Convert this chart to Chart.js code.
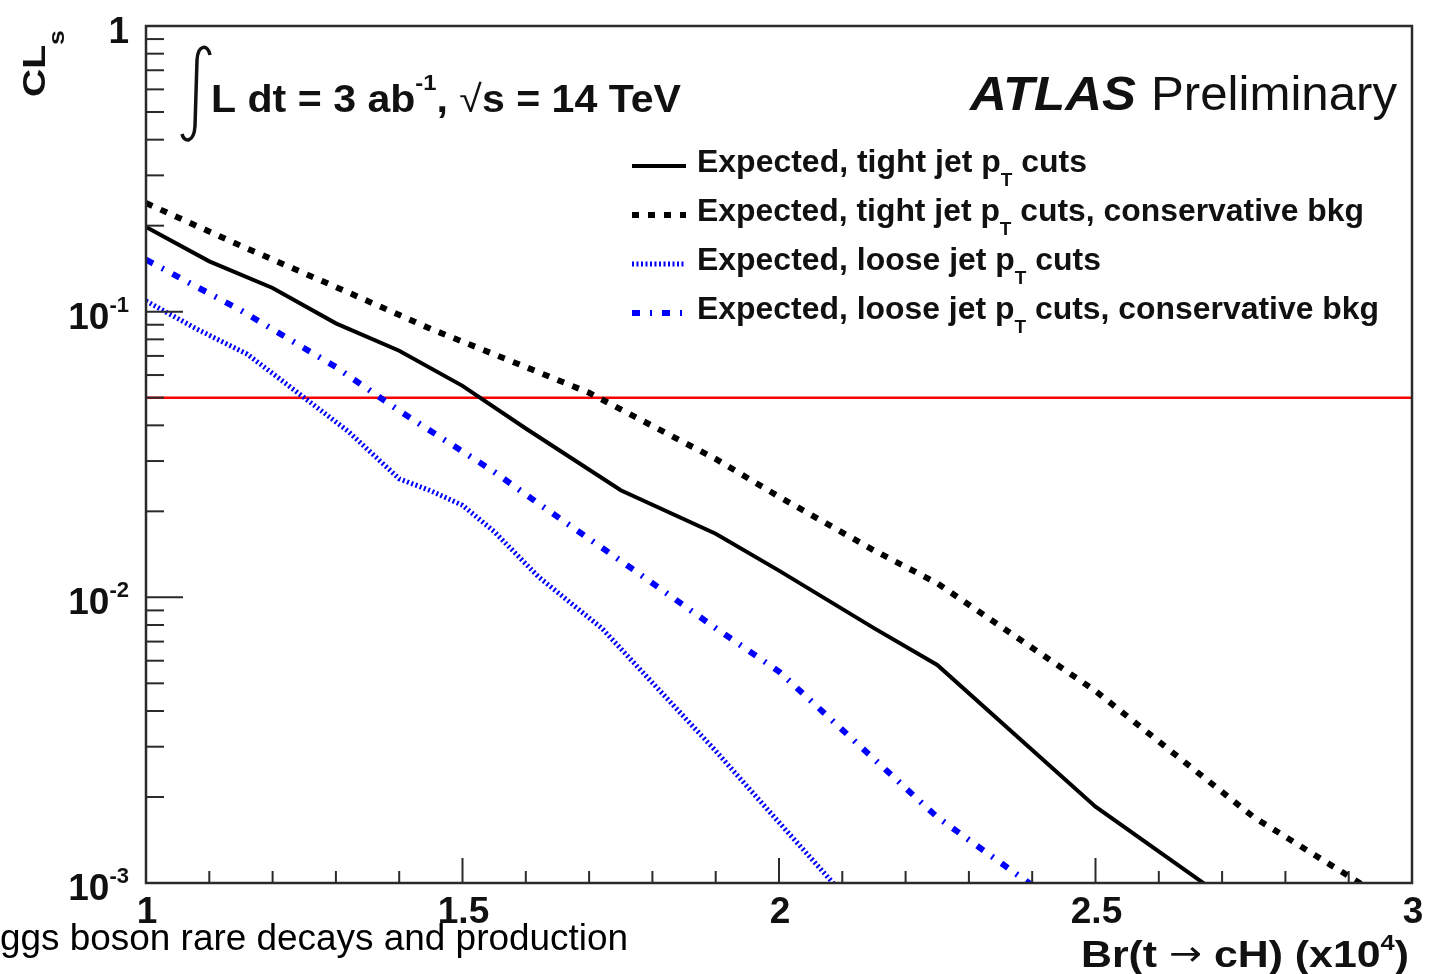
<!DOCTYPE html>
<html lang="en">
<head>
<meta charset="UTF-8">
<title>CLs vs Br(t -> cH)</title>
<script src="https://cdn.jsdelivr.net/npm/chart.js"></script>
<style>
    html, body { margin: 0; padding: 0; background: #fff; }
    #wrap { width: 1438px; height: 974px; position: relative; }
</style>
</head>
<body>
<div id="wrap"><canvas id="clsChart" width="1438" height="974"></canvas></div>
<script>
    // Br(t -> cH) in units of 1e-4, CLs
    const tightX = [1.0, 1.1, 1.2, 1.3, 1.4, 1.5, 1.6, 1.75, 1.9, 2.0, 2.15, 2.25, 2.5, 2.75];
    const tightCls = [0.198, 0.150, 0.121, 0.091, 0.073, 0.055, 0.039, 0.0237, 0.0167, 0.0124, 0.0078, 0.0058, 0.00185, 0.00075];

    const tightConsX = [1.0, 1.15, 1.3, 1.45, 1.6, 1.7, 1.9, 2.0, 2.15, 2.25, 2.5, 2.75, 3.0];
    const tightConsCls = [0.24, 0.170, 0.122, 0.087, 0.064, 0.052, 0.0305, 0.0225, 0.0146, 0.0112, 0.0047, 0.0017, 0.00077];

    const looseX = [1.0, 1.08, 1.16, 1.25, 1.32, 1.4, 1.45, 1.5, 1.55, 1.62, 1.72, 1.9, 2.0, 2.1];
    const looseCls = [0.109, 0.087, 0.071, 0.050, 0.038, 0.026, 0.0236, 0.021, 0.017, 0.0118, 0.0078, 0.0029, 0.00163, 0.00092];

    const looseConsX = [1.0, 1.15, 1.3, 1.4, 1.55, 1.62, 1.77, 1.9, 2.0, 2.25, 2.5];
    const looseConsCls = [0.152, 0.101, 0.064, 0.045, 0.0275, 0.0213, 0.0125, 0.0078, 0.0055, 0.0017, 0.00068];

    // 95% CL line
    const limitX = [1, 3];
    const limitCls = [0.05, 0.05];

    const xTicks = [1, 1.5, 2, 2.5, 3];
    const xTickLabels = ['1', '1.5', '2', '2.5', '3'];
    const yTicks = [0.001, 0.01, 0.1, 1];
    const yTickLabels = [['10', '-3'], ['10', '-2'], ['10', '-1'], ['1', '']];

    // [text before subscript, subscript, text after]
    const legendLabels = [
        ['Expected, tight jet p', 'T', ' cuts'],
        ['Expected, tight jet p', 'T', ' cuts, conservative bkg'],
        ['Expected, loose jet p', 'T', ' cuts'],
        ['Expected, loose jet p', 'T', ' cuts, conservative bkg']
    ];

    const FONT = '"Liberation Sans", Arial, Helvetica, sans-serif';
    const styles = [
        { color: '#000000', width: 4, dash: [] },
        { color: '#000000', width: 6, dash: [7, 9] },
        { color: '#0000ff', width: 5, dash: [2, 2.5] },
        { color: '#0000ff', width: 6, dash: [8, 10, 2, 10] }
    ];

    function pts(xs, ys) {
        return xs.map((x, i) => ({ x: x, y: ys[i] }));
    }

    // draw a run of text pieces (font / vertical shift), optionally squeezed to a width
    function drawRich(ctx, parts, x, y, align, width) {
        let total = 0;
        parts.forEach(p => { ctx.font = p.font; p.w = ctx.measureText(p.text).width; total += p.w; });
        const sx = width ? width / total : 1;
        let cx = align === 'right' ? x - total * sx : (align === 'center' ? x - total * sx / 2 : x);
        ctx.textAlign = 'left';
        ctx.textBaseline = 'alphabetic';
        parts.forEach(p => {
            ctx.font = p.font;
            ctx.save();
            ctx.translate(cx, y + (p.dy || 0));
            ctx.scale(sx, 1);
            ctx.fillText(p.text, 0, 0);
            ctx.restore();
            cx += p.w * sx;
        });
    }

    function seg(ctx, x1, y1, x2, y2) {
        ctx.beginPath();
        ctx.moveTo(x1, y1);
        ctx.lineTo(x2, y2);
        ctx.stroke();
    }

    const rootFrame = {
        id: 'rootFrame',
        afterDatasetsDraw(chart) {
            const ctx = chart.ctx, a = chart.chartArea;
            const xs = chart.scales.x, ys = chart.scales.y;
            ctx.save();
            ctx.strokeStyle = '#2a2a2a';
            ctx.lineWidth = 2.5;
            ctx.setLineDash([]);
            ctx.strokeRect(a.left, a.top, a.right - a.left, a.bottom - a.top);

            // log y ticks, inside the frame
            ctx.lineWidth = 2;
            for (let e = -3; e <= 0; e++) {
                for (let m = 1; m <= 9; m++) {
                    const v = m * Math.pow(10, e);
                    if (v > 1) break;
                    const py = ys.getPixelForValue(v);
                    seg(ctx, a.left, py, a.left + (m === 1 ? 37 : 18), py);
                }
            }
            // x ticks every 0.1
            for (let i = 0; i <= 20; i++) {
                const px = xs.getPixelForValue(1 + i / 10);
                seg(ctx, px, a.bottom, px, a.bottom - (i % 5 === 0 ? 25 : 12));
            }
            ctx.restore();
        },
        afterDraw(chart) {
            const ctx = chart.ctx;
            const xs = chart.scales.x, ys = chart.scales.y;
            ctx.save();
            ctx.fillStyle = '#111';
            const B = 'bold 37px ' + FONT;
            const Bs = 'bold 22px ' + FONT;

            // y tick labels
            yTicks.forEach((v, i) => {
                const py = ys.getPixelForValue(v);
                const lab = yTickLabels[i];
                if (lab[1]) {
                    drawRich(ctx, [{ text: lab[0], font: B }, { text: lab[1], font: Bs, dy: -17 }], 129, py + 17, 'right');
                } else {
                    drawRich(ctx, [{ text: lab[0], font: B }], 129, py + 17, 'right');
                }
            });
            // x tick labels
            xTicks.forEach((v, i) => {
                drawRich(ctx, [{ text: xTickLabels[i], font: B }], xs.getPixelForValue(v) + 1, 923, 'center');
            });

            // axis titles
            drawRich(ctx, [
                { text: 'Br(t ', font: B },
                { text: '\u2192', font: '34px "DejaVu Sans", ' + FONT, dy: -2 },
                { text: ' cH) (x10', font: B },
                { text: '4', font: Bs, dy: -17 },
                { text: ')', font: B }
            ], 1409, 967, 'right', 328);

            ctx.save();
            ctx.translate(45, 97);
            ctx.rotate(-Math.PI / 2);
            drawRich(ctx, [{ text: 'CL', font: 'bold 32px ' + FONT }, { text: 's', font: 'bold 22px ' + FONT, dy: 19 }], 0, 0, 'left', 67);
            ctx.restore();

            // luminosity / energy label with integral sign
            ctx.strokeStyle = '#111';
            ctx.lineWidth = 3.5;
            ctx.beginPath();
            ctx.moveTo(210, 55);
            ctx.bezierCurveTo(208, 44, 198, 44, 197, 60);
            ctx.lineTo(195, 126);
            ctx.bezierCurveTo(194, 143, 184, 143, 182, 134);
            ctx.stroke();
            drawRich(ctx, [
                { text: 'L dt = 3 ab', font: 'bold 38px ' + FONT },
                { text: '-1', font: 'bold 22px ' + FONT, dy: -22 },
                { text: ', ', font: 'bold 38px ' + FONT },
                { text: '\u221A', font: '38px ' + FONT },
                { text: 's = 14 TeV', font: 'bold 38px ' + FONT }
            ], 211, 112, 'left', 470);

            // ATLAS Preliminary
            drawRich(ctx, [{ text: 'ATLAS', font: 'italic bold 48px ' + FONT }], 970, 110, 'left', 166);
            drawRich(ctx, [{ text: 'Preliminary', font: '48px ' + FONT }], 1151, 110, 'left', 246);

            // legend
            const rowY = [166, 215, 264, 313];
            const rowW = [390, 667, 404, 682];
            legendLabels.forEach((lab, i) => {
                const s = styles[i];
                ctx.save();
                ctx.strokeStyle = s.color;
                ctx.lineWidth = s.width;
                ctx.setLineDash(s.dash);
                seg(ctx, 632, rowY[i], 686, rowY[i]);
                ctx.restore();
                drawRich(ctx, [
                    { text: lab[0], font: 'bold 32px ' + FONT },
                    { text: lab[1], font: 'bold 19px ' + FONT, dy: 14 },
                    { text: lab[2], font: 'bold 32px ' + FONT }
                ], 697, rowY[i] + 6, 'left', rowW[i]);
            });

            // caption fragment under the plot
            ctx.fillStyle = '#000';
            drawRich(ctx, [{ text: 'ggs boson rare decays and production', font: '36px ' + FONT }], 0, 950, 'left', 628);
            ctx.restore();
        }
    };

    function ds(label, xs, ys, s) {
        return {
            label: label,
            data: pts(xs, ys),
            borderColor: s.color,
            borderWidth: s.width,
            borderDash: s.dash,
            borderCapStyle: 'butt',
            pointRadius: 0,
            tension: 0,
            fill: false,
            clip: 0,
            order: 0
        };
    }

    new Chart(document.getElementById('clsChart'), {
        type: 'line',
        data: {
            datasets: [
                ds('tight', tightX, tightCls, styles[0]),
                ds('tight cons', tightConsX, tightConsCls, styles[1]),
                ds('loose', looseX, looseCls, styles[2]),
                ds('loose cons', looseConsX, looseConsCls, styles[3]),
                {
                    label: 'CLs = 0.05',
                    data: pts(limitX, limitCls),
                    borderColor: '#ff0000',
                    borderWidth: 2.5,
                    pointRadius: 0,
                    tension: 0,
                    clip: 0,
                    order: 10
                }
            ]
        },
        options: {
            responsive: false,
            animation: false,
            devicePixelRatio: 1,
            layout: { padding: { left: 146, top: 26, right: 26, bottom: 91 } },
            scales: {
                x: { type: 'linear', min: 1, max: 3, display: false },
                y: { type: 'logarithmic', min: 0.001, max: 1, display: false }
            },
            plugins: {
                legend: { display: false },
                tooltip: { enabled: false }
            }
        },
        plugins: [rootFrame]
    });
</script>
</body>
</html>
